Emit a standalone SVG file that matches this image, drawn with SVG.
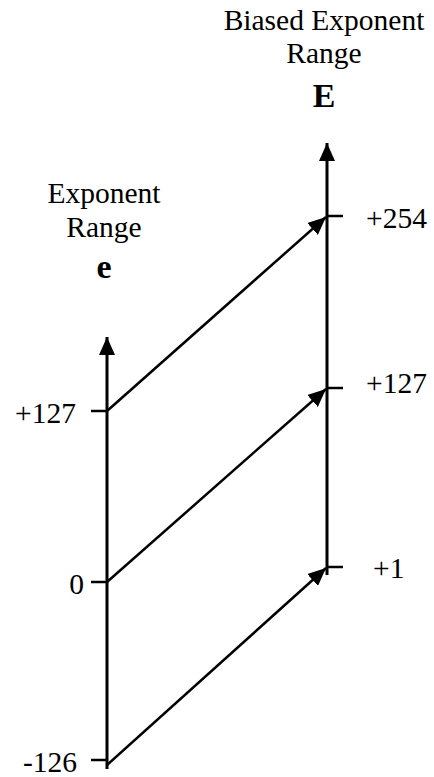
<svg xmlns="http://www.w3.org/2000/svg" width="434" height="777" viewBox="0 0 434 777">
<style>
text{font-family:"Liberation Serif","Times New Roman",serif;fill:#000}
.t{font-size:29.5px}
.b{font-size:34px;font-weight:bold}
.ax{stroke:#000;stroke-width:3;fill:none}
.dg{stroke:#000;stroke-width:2.5;fill:none}
.tk{stroke:#000;stroke-width:2.5;fill:none}
</style>
<defs>
<marker id="ah" markerUnits="userSpaceOnUse" markerWidth="20" markerHeight="16" refX="18" refY="8" orient="auto">
<path d="M0,0 L18,8 L0,16 Z" fill="#000"/>
</marker>
</defs>
<g id="label-E">
<text class="t" x="324" y="30" text-anchor="middle">Biased Exponent</text>
<text class="t" x="324" y="63" text-anchor="middle">Range</text>
<text class="b" x="324" y="107" text-anchor="middle">E</text>
</g>
<g id="label-e">
<text class="t" x="104" y="203" text-anchor="middle">Exponent</text>
<text class="t" x="104" y="237" text-anchor="middle">Range</text>
<text class="b" x="104" y="278" text-anchor="middle">e</text>
</g>
<g id="axis-e">
<line class="ax" x1="107" y1="769" x2="107" y2="337" marker-end="url(#ah)"/>
<line class="tk" x1="91" y1="411" x2="107" y2="411"/>
<line class="tk" x1="91" y1="582" x2="107" y2="582"/>
<line class="tk" x1="91" y1="760" x2="107" y2="760"/>
<text class="t" x="76" y="423" text-anchor="end">+127</text>
<text class="t" x="84" y="594" text-anchor="end">0</text>
<text class="t" x="77" y="772" text-anchor="end">-126</text>
</g>
<g id="axis-E">
<line class="ax" x1="327" y1="575" x2="327" y2="143" marker-end="url(#ah)"/>
<line class="tk" x1="327" y1="216" x2="343" y2="216"/>
<line class="tk" x1="327" y1="388" x2="343" y2="388"/>
<line class="tk" x1="327" y1="567" x2="343" y2="567"/>
<text class="t" x="366" y="228">+254</text>
<text class="t" x="366" y="393">+127</text>
<text class="t" x="373" y="578">+1</text>
</g>
<g id="connectors">
<line class="dg" x1="107" y1="411" x2="326" y2="217" marker-end="url(#ah)"/>
<line class="dg" x1="107" y1="582" x2="326" y2="389" marker-end="url(#ah)"/>
<line class="dg" x1="107" y1="765" x2="326" y2="568" marker-end="url(#ah)"/>
</g>
</svg>
